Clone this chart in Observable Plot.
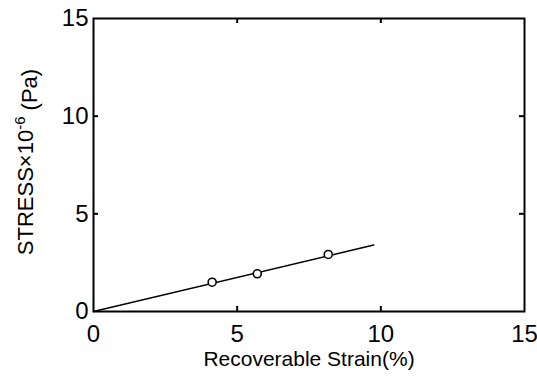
<!DOCTYPE html>
<html><head><meta charset="utf-8">
<script src="https://cdn.jsdelivr.net/npm/d3@7"></script>
<script src="https://cdn.jsdelivr.net/npm/@observablehq/plot@0.6"></script>
<style>
body{margin:0;background:#fff}
svg text{font-family:"Liberation Sans",Arial,sans-serif}
</style>
</head><body><div id="chart"></div>
<script>
const strain = [4.13, 5.70, 8.17];
const stress = [1.50, 1.93, 2.92];
const fitStrain = [0, 9.75];
const fitStress = [0, 3.40];
const xTicks = [0, 5, 10, 15];
const yTicks = [0, 5, 10, 15];
const innerTicks = [5, 10];
const xLabel = "Recoverable Strain(%)";
const yLabelMain = "STRESS×10";
const yLabelExp = "-6";
const yLabelUnit = " (Pa)";

const points = strain.map((s, i) => ({x: s, y: stress[i]}));
const fit = fitStrain.map((s, i) => ({x: s, y: fitStress[i]}));

const W = 537, H = 382, ML = 93, MR = 13, MT = 18, MB = 71;
const plotW = W - ML - MR, plotH = H - MT - MB, tickLen = 5;

const chart = Plot.plot({
  width: W,
  height: H,
  marginLeft: ML,
  marginRight: MR,
  marginTop: MT,
  marginBottom: MB,
  style: {background: "#fff", color: "#000", fontSize: "24px"},
  x: {domain: [0, 15]},
  y: {domain: [0, 15]},
  marks: [
    Plot.axisX(xTicks, {anchor: "bottom", tickSize: 0, tickPadding: 13, label: null, fontSize: 24}),
    Plot.axisY(yTicks, {anchor: "left", tickSize: 0, tickPadding: 5, label: null, fontSize: 24}),
    Plot.tickX(innerTicks, {x: d => d, insetTop: plotH - tickLen, stroke: "#000", strokeWidth: 2}),
    Plot.tickX(innerTicks, {x: d => d, insetBottom: plotH - tickLen, stroke: "#000", strokeWidth: 2}),
    Plot.tickY(innerTicks, {y: d => d, insetRight: plotW - tickLen, stroke: "#000", strokeWidth: 2}),
    Plot.tickY(innerTicks, {y: d => d, insetLeft: plotW - tickLen, stroke: "#000", strokeWidth: 2}),
    Plot.frame({stroke: "#000", strokeWidth: 2}),
    Plot.line(fit, {x: "x", y: "y", stroke: "#000", strokeWidth: 1.5}),
    Plot.dot(points, {x: "x", y: "y", r: 4, fill: "#fff", stroke: "#000", strokeWidth: 1.6}),
    Plot.text([xLabel], {frameAnchor: "bottom", dy: 48, text: d => d, fontSize: 21, lineAnchor: "middle"})
  ]
});

document.getElementById("chart").appendChild(chart);

const svg = d3.select(chart);
const yl = svg.append("text")
  .attr("transform", "translate(33,162) rotate(-90)")
  .attr("text-anchor", "middle")
  .attr("font-size", 22)
  .attr("fill", "#000");
yl.append("tspan").text(yLabelMain);
yl.append("tspan").attr("dy", "-0.55em").attr("font-size", 15).text(yLabelExp);
yl.append("tspan").attr("dy", "0.55em").text(yLabelUnit);
</script>
</body></html>
